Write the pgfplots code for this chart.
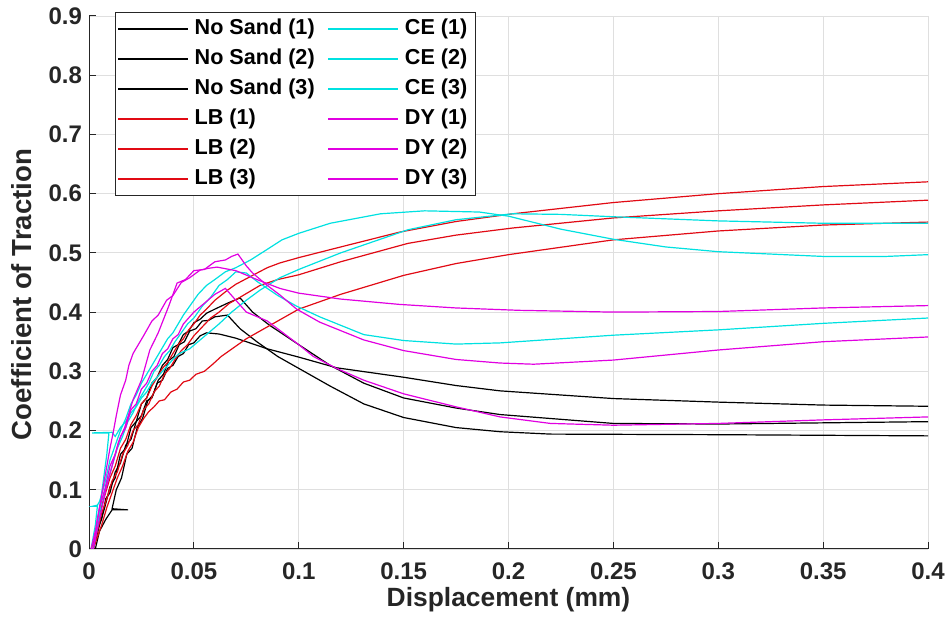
\documentclass[border=0pt]{standalone}
\usepackage{fontspec}
\setmainfont{Liberation Sans}
\usepackage{pgfplots}
\pgfplotsset{compat=1.18}
\definecolor{axgray}{RGB}{38,38,38}
\definecolor{gridgray}{RGB}{223,223,223}
\definecolor{lbred}{RGB}{225,10,20}
\definecolor{cecyan}{RGB}{0,225,225}
\definecolor{dymag}{RGB}{225,0,225}
\begin{document}
\begin{tikzpicture}
\begin{axis}[
  scale only axis, width=419.5pt, height=266.5pt,
  xmin=0, xmax=0.4, ymin=0, ymax=0.9,
  axis lines=left, axis line style={-, color=axgray, line width=0.5pt},
  tick align=inside, major tick length=3.5pt,
  tick style={color=axgray, line width=0.5pt},
  grid=major, grid style={color=gridgray, line width=0.4pt},
  xtick={0,0.05,0.1,0.15,0.2,0.25,0.3,0.35,0.4},
  xticklabels={0,0.05,0.1,0.15,0.2,0.25,0.3,0.35,0.4},
  ytick={0,0.1,0.2,0.3,0.4,0.5,0.6,0.7,0.8,0.9},
  yticklabels={0,0.1,0.2,0.3,0.4,0.5,0.6,0.7,0.8,0.9},
  ticklabel style={font=\bfseries\fontsize{12}{14}\selectfont, text=axgray},
  xticklabel style={yshift=-3.5pt},
  xlabel={Displacement (mm)}, ylabel={Coefficient of Traction},
  xlabel style={font=\bfseries\fontsize{13.2}{15}\selectfont, text=axgray, yshift=3pt},
  ylabel style={font=\bfseries\fontsize{13.8}{15}\selectfont, text=axgray, yshift=1.5pt, xshift=-6pt},
  legend columns=2,
  legend cell align=left,
  legend image code/.code={\draw[#1] (0pt,0pt) -- (35pt,0pt);},
  legend style={at={(0,1)}, anchor=north west, xshift=13pt, yshift=2pt,
    draw=axgray, line width=0.5pt, fill=white,
    font=\bfseries\fontsize{10.8}{13}\selectfont, text=black,
    nodes={inner ysep=0pt, inner xsep=3pt, text height=8pt, text depth=2.5pt},
    row sep=4.5pt, inner xsep=1pt, inner ysep=3pt,
    /tikz/every even column/.append style={column sep=3.5pt}},
  every axis plot/.append style={line width=0.6pt},
  ns/.style={black}, lb/.style={lbred}, ce/.style={cecyan}, dy/.style={dymag},
]
% ---------- No Sand ----------
\addplot[ns, forget plot] coordinates {(0.002,0.0)(0.004,0.035)(0.006,0.05)(0.008,0.085)(0.010,0.095)(0.0125,0.13)(0.015,0.145)(0.0175,0.175)(0.02,0.185)(0.0225,0.215)(0.025,0.225)(0.0275,0.25)(0.03,0.255)(0.0325,0.28)(0.035,0.285)(0.0375,0.305)(0.04,0.31)(0.0425,0.325)(0.045,0.33)(0.0475,0.345)(0.05,0.348)(0.053,0.36)(0.056,0.365)(0.062,0.363)(0.07,0.356)(0.085,0.338)(0.1,0.324)(0.118,0.306)(0.15,0.29)(0.175,0.276)(0.196,0.267)(0.25,0.254)(0.3,0.248)(0.35,0.243)(0.4,0.241)};
\addplot[ns, forget plot] coordinates {(0.003,0.0)(0.005,0.03)(0.008,0.05)(0.011,0.066)(0.0186,0.066)(0.011,0.068)(0.013,0.10)(0.0155,0.12)(0.018,0.16)(0.0205,0.17)(0.023,0.205)(0.0255,0.22)(0.028,0.25)(0.0305,0.26)(0.033,0.285)(0.0355,0.295)(0.038,0.318)(0.0405,0.325)(0.043,0.345)(0.0455,0.35)(0.048,0.368)(0.051,0.372)(0.054,0.385)(0.057,0.386)(0.06,0.392)(0.066,0.395)(0.072,0.372)(0.08,0.35)(0.09,0.325)(0.1,0.305)(0.115,0.275)(0.131,0.245)(0.15,0.222)(0.175,0.205)(0.196,0.198)(0.22,0.194)(0.3,0.193)(0.35,0.192)(0.4,0.191)};
\addplot[ns, forget plot] coordinates {(0.002,0.0)(0.005,0.04)(0.0075,0.07)(0.01,0.105)(0.0125,0.12)(0.015,0.16)(0.0175,0.17)(0.02,0.205)(0.0225,0.215)(0.025,0.245)(0.0275,0.255)(0.03,0.28)(0.0325,0.29)(0.035,0.31)(0.0375,0.32)(0.04,0.34)(0.0425,0.345)(0.045,0.362)(0.0475,0.368)(0.05,0.382)(0.053,0.388)(0.056,0.398)(0.06,0.405)(0.066,0.415)(0.072,0.424)(0.078,0.40)(0.086,0.378)(0.1,0.345)(0.115,0.31)(0.131,0.28)(0.15,0.255)(0.175,0.238)(0.196,0.227)(0.25,0.212)(0.3,0.211)(0.35,0.213)(0.4,0.215)};
% ---------- LB ----------
\addplot[lb, forget plot] coordinates {(0.001,0.0)(0.003,0.02)(0.005,0.06)(0.0075,0.09)(0.01,0.12)(0.0125,0.14)(0.015,0.17)(0.0175,0.185)(0.02,0.21)(0.0225,0.225)(0.025,0.245)(0.0275,0.255)(0.03,0.275)(0.0325,0.29)(0.035,0.305)(0.0375,0.315)(0.04,0.33)(0.0425,0.345)(0.045,0.355)(0.0475,0.37)(0.05,0.38)(0.053,0.395)(0.056,0.405)(0.06,0.42)(0.066,0.437)(0.07,0.447)(0.078,0.462)(0.085,0.475)(0.091,0.483)(0.1,0.492)(0.12,0.51)(0.148,0.535)(0.175,0.553)(0.202,0.566)(0.25,0.585)(0.3,0.60)(0.35,0.612)(0.4,0.62)};
\addplot[lb, forget plot] coordinates {(0.002,0.0)(0.004,0.03)(0.006,0.06)(0.0085,0.085)(0.011,0.115)(0.0135,0.13)(0.016,0.16)(0.0185,0.175)(0.021,0.2)(0.0235,0.21)(0.026,0.235)(0.0285,0.245)(0.031,0.265)(0.0335,0.275)(0.036,0.295)(0.0385,0.305)(0.041,0.32)(0.044,0.335)(0.047,0.345)(0.05,0.36)(0.054,0.375)(0.058,0.39)(0.062,0.40)(0.067,0.415)(0.072,0.425)(0.0815,0.445)(0.09,0.455)(0.1,0.463)(0.12,0.485)(0.152,0.516)(0.175,0.53)(0.202,0.542)(0.25,0.559)(0.3,0.571)(0.35,0.581)(0.4,0.589)};
\addplot[lb, forget plot] coordinates {(0.002,0.0)(0.004,0.02)(0.006,0.04)(0.0085,0.07)(0.011,0.095)(0.0135,0.12)(0.016,0.14)(0.0185,0.165)(0.021,0.18)(0.0235,0.205)(0.026,0.22)(0.0285,0.232)(0.031,0.24)(0.0335,0.25)(0.036,0.252)(0.039,0.265)(0.042,0.27)(0.045,0.282)(0.048,0.285)(0.051,0.295)(0.055,0.30)(0.059,0.312)(0.063,0.325)(0.069,0.34)(0.075,0.355)(0.08,0.365)(0.09,0.385)(0.1,0.405)(0.12,0.43)(0.15,0.462)(0.175,0.482)(0.2,0.497)(0.25,0.522)(0.3,0.537)(0.35,0.547)(0.4,0.552)};
% ---------- CE ----------
\addplot[ce, forget plot] coordinates {(0.001,0.0)(0.003,0.04)(0.004,0.072)(0.0015,0.072)(0.004,0.074)(0.005,0.08)(0.0075,0.11)(0.01,0.15)(0.0125,0.175)(0.015,0.2)(0.0175,0.22)(0.02,0.245)(0.0225,0.26)(0.025,0.28)(0.0275,0.295)(0.03,0.31)(0.0325,0.325)(0.035,0.34)(0.0375,0.355)(0.04,0.365)(0.0425,0.38)(0.045,0.395)(0.048,0.41)(0.052,0.43)(0.056,0.445)(0.06,0.455)(0.065,0.468)(0.07,0.475)(0.077,0.488)(0.085,0.506)(0.092,0.522)(0.1,0.533)(0.115,0.55)(0.139,0.566)(0.16,0.571)(0.186,0.569)(0.2,0.562)(0.225,0.54)(0.25,0.523)(0.275,0.51)(0.3,0.502)(0.35,0.494)(0.38,0.494)(0.4,0.497)};
\addplot[ce, forget plot] coordinates {(0.002,0.0)(0.004,0.04)(0.0055,0.08)(0.007,0.12)(0.0085,0.16)(0.0095,0.196)(0.0015,0.196)(0.011,0.197)(0.0125,0.19)(0.015,0.205)(0.0175,0.215)(0.02,0.23)(0.0225,0.24)(0.025,0.255)(0.0275,0.265)(0.03,0.28)(0.0325,0.29)(0.035,0.30)(0.0375,0.31)(0.04,0.32)(0.043,0.33)(0.048,0.338)(0.052,0.35)(0.057,0.365)(0.062,0.38)(0.068,0.40)(0.075,0.42)(0.0815,0.437)(0.091,0.458)(0.1,0.472)(0.12,0.50)(0.152,0.539)(0.175,0.556)(0.202,0.566)(0.225,0.565)(0.25,0.561)(0.3,0.554)(0.35,0.55)(0.4,0.55)};
\addplot[ce, forget plot] coordinates {(0.002,0.0)(0.004,0.04)(0.006,0.08)(0.0085,0.11)(0.011,0.14)(0.0135,0.17)(0.016,0.19)(0.0185,0.215)(0.021,0.23)(0.0235,0.25)(0.026,0.265)(0.0285,0.28)(0.031,0.30)(0.0335,0.31)(0.036,0.325)(0.0385,0.335)(0.041,0.35)(0.044,0.365)(0.047,0.38)(0.05,0.39)(0.054,0.41)(0.058,0.425)(0.062,0.445)(0.066,0.455)(0.07,0.468)(0.075,0.466)(0.08,0.452)(0.09,0.428)(0.099,0.41)(0.11,0.392)(0.131,0.362)(0.15,0.352)(0.175,0.346)(0.196,0.348)(0.25,0.361)(0.3,0.37)(0.35,0.381)(0.4,0.39)};
% ---------- DY ----------
\addplot[dy, forget plot] coordinates {(0.002,0.0)(0.004,0.05)(0.006,0.09)(0.008,0.13)(0.01,0.17)(0.0115,0.196)(0.013,0.225)(0.015,0.26)(0.0175,0.285)(0.019,0.31)(0.021,0.33)(0.0235,0.345)(0.026,0.36)(0.03,0.385)(0.033,0.395)(0.037,0.42)(0.04,0.428)(0.044,0.45)(0.048,0.458)(0.053,0.471)(0.057,0.474)(0.061,0.476)(0.07,0.47)(0.08,0.455)(0.091,0.44)(0.1,0.432)(0.12,0.422)(0.148,0.413)(0.175,0.407)(0.205,0.403)(0.25,0.40)(0.3,0.401)(0.35,0.407)(0.4,0.411)};
\addplot[dy, forget plot] coordinates {(0.002,0.0)(0.005,0.05)(0.008,0.1)(0.011,0.14)(0.014,0.18)(0.017,0.205)(0.021,0.252)(0.025,0.285)(0.029,0.336)(0.033,0.365)(0.038,0.41)(0.042,0.449)(0.046,0.455)(0.05,0.47)(0.055,0.472)(0.06,0.485)(0.065,0.488)(0.068,0.494)(0.071,0.498)(0.075,0.478)(0.078,0.466)(0.085,0.445)(0.091,0.429)(0.099,0.405)(0.11,0.383)(0.131,0.353)(0.15,0.335)(0.175,0.32)(0.196,0.314)(0.212,0.312)(0.25,0.319)(0.3,0.336)(0.35,0.35)(0.4,0.358)};
\addplot[dy, forget plot] coordinates {(0.001,0.0)(0.003,0.03)(0.005,0.07)(0.0075,0.1)(0.01,0.14)(0.0125,0.16)(0.015,0.19)(0.0175,0.205)(0.02,0.235)(0.0225,0.245)(0.025,0.27)(0.0275,0.28)(0.03,0.3)(0.0325,0.31)(0.035,0.33)(0.0375,0.338)(0.04,0.355)(0.0425,0.362)(0.045,0.38)(0.05,0.40)(0.055,0.415)(0.06,0.43)(0.065,0.44)(0.07,0.42)(0.075,0.40)(0.085,0.385)(0.1,0.345)(0.107,0.325)(0.118,0.305)(0.131,0.285)(0.15,0.262)(0.175,0.24)(0.196,0.223)(0.22,0.212)(0.25,0.209)(0.3,0.212)(0.35,0.218)(0.4,0.223)};
% ---------- legend (column-major order) ----------
\addlegendimage{ns}\addlegendentry{No Sand (1)}
\addlegendimage{ce}\addlegendentry{CE (1)}
\addlegendimage{ns}\addlegendentry{No Sand (2)}
\addlegendimage{ce}\addlegendentry{CE (2)}
\addlegendimage{ns}\addlegendentry{No Sand (3)}
\addlegendimage{ce}\addlegendentry{CE (3)}
\addlegendimage{lb}\addlegendentry{LB (1)}
\addlegendimage{dy}\addlegendentry{DY (1)}
\addlegendimage{lb}\addlegendentry{LB (2)}
\addlegendimage{dy}\addlegendentry{DY (2)}
\addlegendimage{lb}\addlegendentry{LB (3)}
\addlegendimage{dy}\addlegendentry{DY (3)}
\coordinate (bl) at (rel axis cs:0,0);
\coordinate (tr) at (rel axis cs:1,1);
\end{axis}
\pgfresetboundingbox
\path[use as bounding box] ([xshift=-44.5pt,yshift=-40.5pt]bl) rectangle ([xshift=10pt,yshift=8pt]tr);
\end{tikzpicture}
\end{document}
